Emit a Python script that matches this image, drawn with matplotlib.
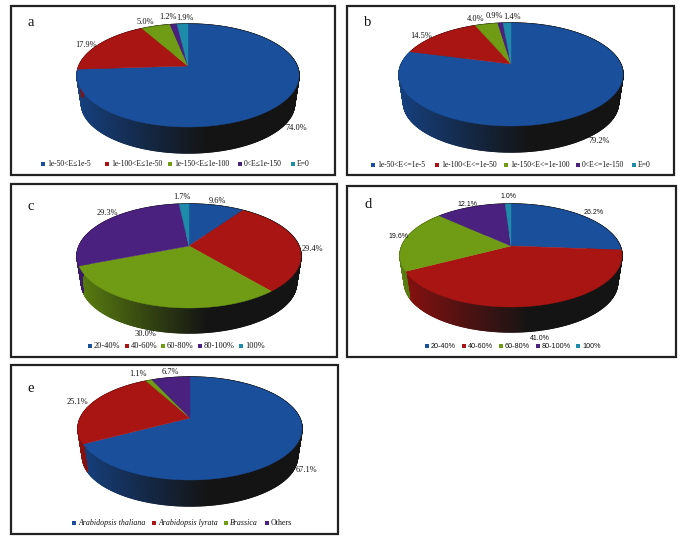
import numpy as np
import matplotlib
matplotlib.use('Agg')
import matplotlib.pyplot as plt
from matplotlib.collections import PolyCollection
from matplotlib.colors import to_rgb
from matplotlib.patches import Rectangle

# Slice values, clockwise from 12 o'clock
VALUES_A = [74.0, 17.9, 5.0, 1.2, 1.9]
VALUES_B = [79.2, 14.5, 4.0, 0.9, 1.4]
VALUES_C = [9.6, 29.4, 30.0, 29.3, 1.7]
VALUES_D = [26.2, 41.0, 19.6, 12.1, 1.0]
VALUES_E = [67.1, 25.1, 1.1, 6.7]

# Legend labels
LEGEND_A = ['1e-50<E≤1e-5', '1e-100<E≤1e-50', '1e-150<E≤1e-100', '0<E≤1e-150', 'E=0']
LEGEND_B = ['1e-50<E<=1e-5', '1e-100<E<=1e-50', '1e-150<E<=1e-100', '0<E<=1e-150', 'E=0']
LEGEND_CD = ['20-40%', '40-60%', '60-80%', '80-100%', '100%']
LEGEND_E = ['Arabidopsis thaliana', 'Arabidopsis lyrata', 'Brassica', 'Others']
ITALIC_E = [True, True, True, False]

COLORS = ['#1A4F9C', '#A91513', '#6F9C14', '#4B2180', '#1E8BAA']
WALL_DARK = np.array(to_rgb('#141414'))
TEXT_COLOR = '#111111'

# Layout in pixels of the whole picture
PANELS = [
    dict(letter='a', values=VALUES_A, legend=LEGEND_A, font='Liberation Serif', legend_size=5.5, label_size=6.0,
         frame=(11, 6, 335, 175), apex=(188, 66), top=24, bottom=127, left=77, right=299, wall=153,
         letter_xy=(31, 23), legend_y=164, legend_x=[43, 107, 170, 240, 293],
         label_xy=[(296, 128), (86, 45), (145, 22), (168, 17), (185, 18)]),
    dict(letter='b', values=VALUES_B, legend=LEGEND_B, font='Liberation Serif', legend_size=5.5, label_size=6.0,
         frame=(347, 6, 674, 175), apex=(511, 64), top=23, bottom=126, left=399, right=623, wall=152,
         letter_xy=(368, 22), legend_y=165, legend_x=[373, 437, 506, 578, 634],
         label_xy=[(599, 141), (421, 36), (476, 19), (494, 16), (512, 17)]),
    dict(letter='c', values=VALUES_C, legend=LEGEND_CD, font='Liberation Serif', legend_size=6.0, label_size=6.0,
         frame=(11, 184, 337, 357), apex=(189, 246), top=204, bottom=308, left=77, right=301, wall=333,
         letter_xy=(31, 206), legend_y=346, legend_x=[90, 127, 163, 200, 241],
         label_xy=[(217, 201), (312, 249), (145, 334), (107, 213), (182, 197)]),
    dict(letter='d', values=VALUES_D, legend=LEGEND_CD, font='Liberation Sans', legend_size=5.2, label_size=5.0,
         frame=(347, 186, 676, 357), apex=(511, 246), top=204, bottom=307, left=401, right=623, wall=332,
         letter_xy=(368, 205), legend_y=346, legend_x=[427, 464, 501, 538, 578],
         label_xy=[(594, 212), (540, 338), (398, 236), (467, 204), (508, 197)]),
    dict(letter='e', values=VALUES_E, legend=LEGEND_E, font='Liberation Serif', italic=ITALIC_E,
         legend_size=5.7, label_size=6.0,
         frame=(11, 365, 338, 534), apex=(190, 418), top=377, bottom=480, left=78, right=302, wall=506,
         letter_xy=(31, 389), legend_y=523, legend_x=[74, 154, 226, 267],
         label_xy=[(306, 470), (77, 402), (138, 374), (170, 372)]),
]

WALL_SCALE = 0.96


# Perspective view of the pie disc: angle clockwise from the top to a rim point
def rim_points(angles, panel):
    ax0, ay0 = panel['apex']
    up = ay0 - panel['top']
    down = panel['bottom'] - ay0
    k = (down - up) / (down + up)
    rz = up * (1 + k)
    rx = (panel['right'] - panel['left']) / 2 * np.sqrt(1 - k ** 2)
    xd = np.sin(angles)
    yd = -np.cos(angles)
    w = 1 - k * yd
    return ax0 + rx * xd / w, ay0 + rz * yd / w


def draw_panel(ax, panel):
    x0, y0, x1, y1 = panel['frame']
    ax.add_patch(Rectangle((x0, y0), x1 - x0, y1 - y0, facecolor='white', edgecolor='#222222', linewidth=1.6))

    ax0, ay0 = panel['apex']
    shift = panel['wall'] - ay0 - WALL_SCALE * (panel['bottom'] - ay0)
    width = panel['right'] - panel['left']
    edges = 2 * np.pi * np.cumsum([0] + panel['values']) / sum(panel['values'])

    # Side wall first, as thin strips fading to black towards the right
    strips = []
    strip_colors = []
    for i in range(len(panel['values'])):
        n = max(int((edges[i + 1] - edges[i]) / np.radians(0.5)), 2)
        xs, ys = rim_points(np.linspace(edges[i], edges[i + 1], n), panel)
        xb = ax0 + (xs - ax0) * WALL_SCALE
        yb = ay0 + (ys - ay0) * WALL_SCALE + shift
        base = np.array(to_rgb(COLORS[i])) * 0.8
        for j in range(n - 1):
            strips.append([(xs[j], ys[j]), (xs[j + 1], ys[j + 1]), (xb[j + 1], yb[j + 1]), (xb[j], yb[j])])
            t = np.clip(((xs[j] + xs[j + 1]) / 2 - panel['left']) / (0.58 * width), 0, 1)
            strip_colors.append(base * (1 - t) + WALL_DARK * t)
    ax.add_collection(PolyCollection(strips, facecolors=strip_colors, edgecolors=strip_colors, linewidths=1.0))

    # Top face
    for i in range(len(panel['values'])):
        n = max(int((edges[i + 1] - edges[i]) / np.radians(0.5)), 2)
        xs, ys = rim_points(np.linspace(edges[i], edges[i + 1], n), panel)
        ax.fill(np.r_[ax0, xs], np.r_[ay0, ys], color=COLORS[i], linewidth=0.3)

    font = panel['font']
    for value, (x, y) in zip(panel['values'], panel['label_xy']):
        ax.text(x, y, f'{value:.1f}%', ha='center', va='center', fontsize=panel['label_size'], family=font,
                color=TEXT_COLOR)
    ax.text(*panel['letter_xy'], panel['letter'], ha='center', va='center', fontsize=10.5,
            family='Liberation Serif', color=TEXT_COLOR)

    italic = panel.get('italic', [False] * len(panel['legend']))
    for i, label in enumerate(panel['legend']):
        x = panel['legend_x'][i]
        y = panel['legend_y']
        ax.add_patch(Rectangle((x - 2, y - 2), 4, 4, color=COLORS[i], linewidth=0))
        ax.text(x + 4, y, label, ha='left', va='center', fontsize=panel['legend_size'], family=font,
                style='italic' if italic[i] else 'normal', color=TEXT_COLOR)


def main():
    fig = plt.figure(figsize=(6.85, 5.45), dpi=100)
    ax = fig.add_axes([0, 0, 1, 1])
    ax.set_xlim(0, 685)
    ax.set_ylim(545, 0)
    ax.axis('off')
    for panel in PANELS:
        draw_panel(ax, panel)
    fig.savefig('out.png', dpi=100)


if __name__ == '__main__':
    main()
